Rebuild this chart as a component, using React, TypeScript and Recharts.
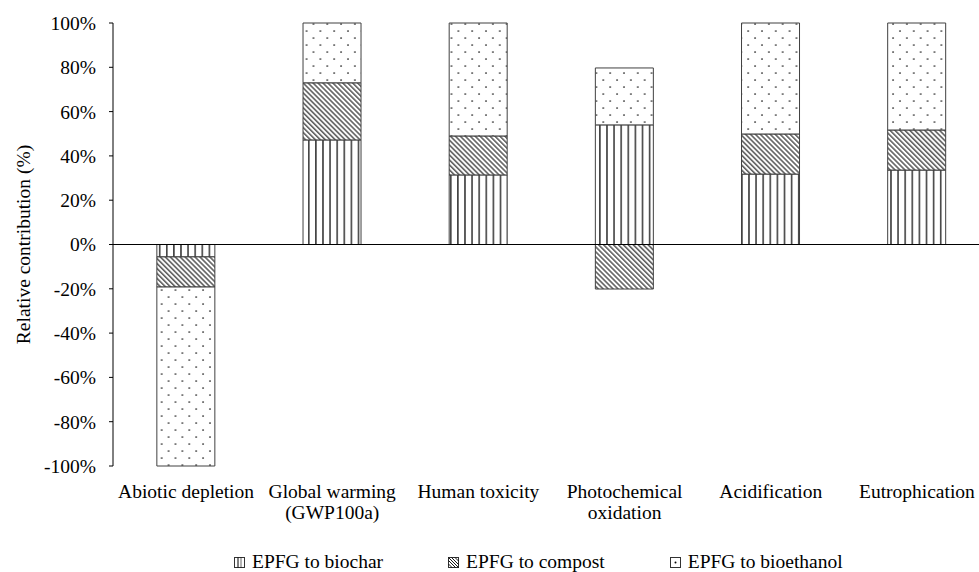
import React from 'react';
import { BarChart, Bar, XAxis, YAxis, ReferenceLine } from 'recharts';

const categories = [
  'Abiotic depletion',
  'Global warming\n(GWP100a)',
  'Human toxicity',
  'Photochemical\noxidation',
  'Acidification',
  'Eutrophication',
];
const biochar = [-5.6, 47.2, 31.4, 54.0, 31.8, 33.6];
const compost = [-13.6, 25.8, 17.6, -20.1, 18.1, 18.1];
const bioethanol = [-80.8, 27.0, 51.0, 25.7, 50.1, 48.3];
const yTicks = [-100, -80, -60, -40, -20, 0, 20, 40, 60, 80, 100];
const seriesNames = ['EPFG to biochar', 'EPFG to compost', 'EPFG to bioethanol'];
const yAxisTitle = 'Relative contribution (%)';

const data = categories.map((c, i) => ({
  category: c,
  biochar: biochar[i],
  compost: compost[i],
  bioethanol: bioethanol[i],
}));

const FONT = '"Liberation Serif", "Times New Roman", serif';
const FS = 19.5;
const BORDER = '#404040';

const XTick = (props: any) => {
  const { x, y, payload } = props;
  const lines = String(payload.value).split('\n');
  return (
    <text x={x} y={y} textAnchor="middle" fontFamily={FONT} fontSize={FS} fill="#000">
      {lines.map((l, i) => (
        <tspan key={i} x={x} dy={i === 0 ? 32 : 21}>
          {l}
        </tspan>
      ))}
    </text>
  );
};

const YTitle = (props: any) => {
  const vb = props.viewBox || { x: 0, y: 23, width: 113, height: 443 };
  const cx = 30;
  const cy = vb.y + vb.height / 2;
  return (
    <text
      x={cx}
      y={cy}
      transform={`rotate(-90 ${cx} ${cy})`}
      textAnchor="middle"
      fontFamily={FONT}
      fontSize={FS}
      fill="#000"
    >
      {yAxisTitle}
    </text>
  );
};

const LegendIcon = ({ kind }: { kind: number }) => (
  <svg width={11} height={11} style={{ display: 'block' }}>
    <rect x={0.5} y={0.5} width={10} height={10} fill="#fff" stroke="#333" strokeWidth={1} />
    {kind === 0 && <line x1={4} y1={0.5} x2={4} y2={10.5} stroke="#000" strokeWidth={1} />}
    {kind === 0 && <line x1={7} y1={0.5} x2={7} y2={10.5} stroke="#000" strokeWidth={0.6} />}
    {kind === 1 && (
      <g stroke="#000" strokeWidth={0.9}>
        <line x1={0.5} y1={3.5} x2={7.5} y2={10.5} />
        <line x1={0.5} y1={0.5} x2={10.5} y2={10.5} />
        <line x1={3.5} y1={0.5} x2={10.5} y2={7.5} />
        <line x1={0.5} y1={7} x2={4} y2={10.5} />
        <line x1={7} y1={0.5} x2={10.5} y2={4} />
      </g>
    )}
    {kind === 2 && <circle cx={5.5} cy={5.5} r={1} fill="#000" />}
  </svg>
);

export default function App() {
  return (
    <div
      style={{
        position: 'absolute',
        left: 0,
        top: 0,
        width: 979,
        height: 572,
        overflow: 'hidden',
        background: '#fff',
      }}
    >
      <BarChart
        width={995}
        height={572}
        data={data}
        stackOffset="sign"
        barCategoryGap="30%"
        margin={{ top: 23, right: 5, left: 0, bottom: 76 }}
      >
        <defs>
          <pattern id="pVert" patternUnits="userSpaceOnUse" width={7.1} height={10}>
            <rect width={7.1} height={10} fill="#fff" />
            <line x1={3.5} y1={0} x2={3.5} y2={10} stroke="#000" strokeWidth={1.2} />
          </pattern>
          <pattern
            id="pDiag"
            patternUnits="userSpaceOnUse"
            width={3.5}
            height={10}
            patternTransform="rotate(-45)"
          >
            <rect width={3.5} height={10} fill="#fff" />
            <line x1={1.7} y1={0} x2={1.7} y2={10} stroke="#000" strokeWidth={1.0} />
          </pattern>
          <pattern id="pDots" patternUnits="userSpaceOnUse" width={13.8} height={14}>
            <rect width={13.8} height={14} fill="#fff" />
            <circle cx={3} cy={3} r={0.85} fill="#111" />
            <circle cx={9.9} cy={10} r={0.85} fill="#111" />
          </pattern>
        </defs>
        <XAxis
          dataKey="category"
          axisLine={false}
          tickLine={false}
          tickSize={0}
          tickMargin={0}
          height={30}
          interval={0}
          tick={<XTick />}
        />
        <YAxis
          width={113}
          domain={[-100, 100]}
          ticks={yTicks}
          interval={0}
          tickFormatter={(v: number) => `${v}%`}
          axisLine={{ stroke: '#000', strokeWidth: 1 }}
          tickLine={{ stroke: '#000', strokeWidth: 1 }}
          tickSize={4}
          tickMargin={13}
          tick={{ fontFamily: FONT, fontSize: FS, fill: '#000' }}
          label={{ content: <YTitle /> }}
        />
        <Bar
          dataKey="biochar"
          name={seriesNames[0]}
          stackId="s"
          fill="url(#pVert)"
          stroke={BORDER}
          strokeWidth={1}
          isAnimationActive={false}
        />
        <Bar
          dataKey="compost"
          name={seriesNames[1]}
          stackId="s"
          fill="url(#pDiag)"
          stroke={BORDER}
          strokeWidth={1}
          isAnimationActive={false}
        />
        <Bar
          dataKey="bioethanol"
          name={seriesNames[2]}
          stackId="s"
          fill="url(#pDots)"
          stroke={BORDER}
          strokeWidth={1}
          isAnimationActive={false}
        />
        <ReferenceLine y={0} stroke="#000" strokeWidth={1} />
      </BarChart>
      <div
        style={{
          position: 'absolute',
          left: 234,
          top: 551,
          display: 'flex',
          alignItems: 'center',
          gap: 65,
          fontFamily: FONT,
          fontSize: FS,
          lineHeight: '22px',
          color: '#000',
          whiteSpace: 'nowrap',
        }}
      >
        {seriesNames.map((n, i) => (
          <div key={n} style={{ display: 'flex', alignItems: 'center', gap: 7 }}>
            <LegendIcon kind={i} />
            <span>{n}</span>
          </div>
        ))}
      </div>
    </div>
  );
}
